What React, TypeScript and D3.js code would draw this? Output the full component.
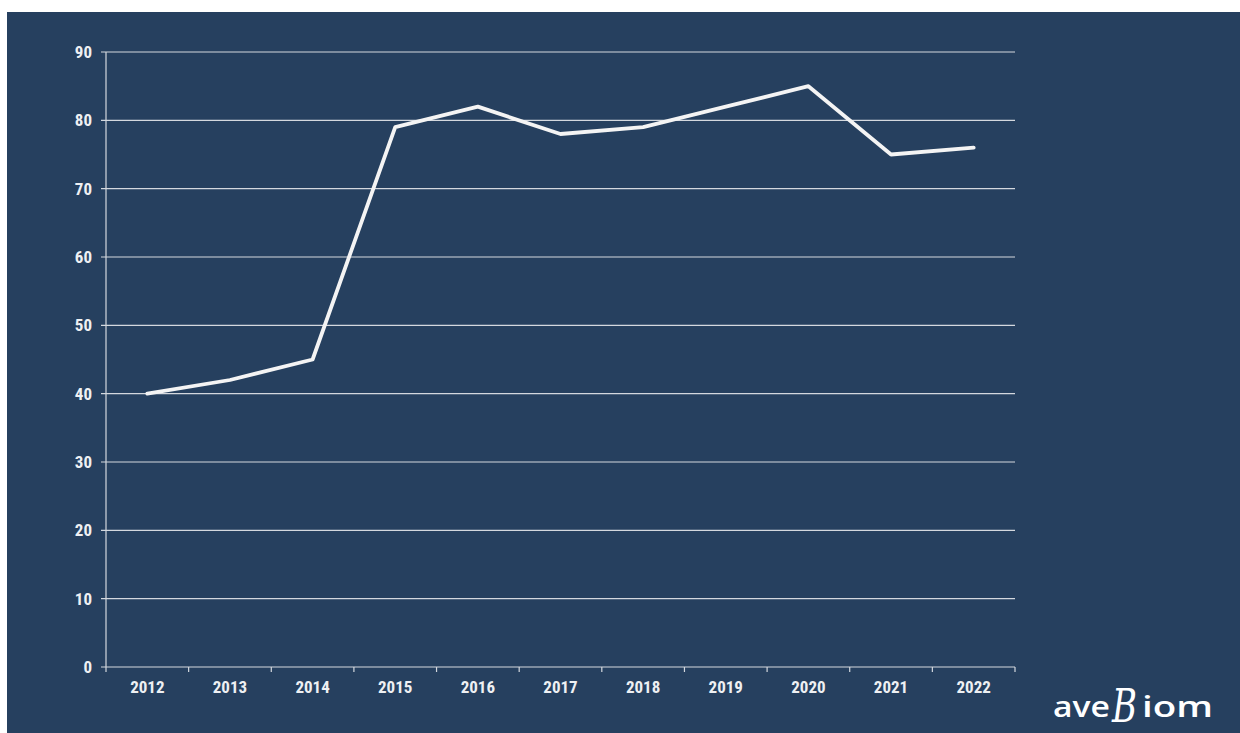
import React from "react";
import * as d3 from "d3";

const years = ["2012", "2013", "2014", "2015", "2016", "2017", "2018", "2019", "2020", "2021", "2022"];
const values = [40, 42, 45, 79, 82, 78, 79, 82, 85, 75, 76];
const yTicks = [0, 10, 20, 30, 40, 50, 60, 70, 80, 90];

const W = 1240;
const H = 733;
const left = 106;
const right = 1015;
const top = 52;
const bottom = 667;
const FONT = "'Liberation Sans Narrow', 'Arial Narrow', 'Roboto Condensed', sans-serif";

export default function App() {
  const x = d3.scaleBand<string>().domain(years).range([left, right]);
  const y = d3.scaleLinear().domain([0, 90]).range([bottom, top]);
  const line = d3
    .line<number>()
    .x((_, i) => (x(years[i]) as number) + x.bandwidth() / 2)
    .y((d) => y(d));
  const boundaries = years.map((yr) => x(yr) as number).concat([right]);

  return (
    <svg width={W} height={H} style={{ position: "absolute", left: 0, top: 0, display: "block" }}>
      <rect x={0} y={0} width={W} height={H} fill="#ffffff" />
      <rect x={7} y={12} width={W - 7} height={H - 12} fill="#26405f" />
      {yTicks.map((t) => (
        <g key={t}>
          <line x1={left - 5} x2={right} y1={y(t)} y2={y(t)} stroke="#d4d8de" strokeWidth={1.2} />
          <text
            x={92}
            y={y(t) + 6}
            textAnchor="end"
            fill="#eef0f3"
            fontFamily={FONT}
            fontWeight="bold"
            fontSize={17}
          >
            {t}
          </text>
        </g>
      ))}
      <line x1={left} x2={left} y1={top} y2={bottom} stroke="#d4d8de" strokeWidth={1.2} />
      {boundaries.map((b, i) => (
        <line key={i} x1={b} x2={b} y1={bottom} y2={bottom + 5} stroke="#d4d8de" strokeWidth={1.2} />
      ))}
      {years.map((yr) => (
        <text
          key={yr}
          x={(x(yr) as number) + x.bandwidth() / 2}
          y={693}
          textAnchor="middle"
          fill="#eef0f3"
          fontFamily={FONT}
          fontWeight="bold"
          fontSize={17}
        >
          {yr}
        </text>
      ))}
      <path d={line(values) || ""} fill="none" stroke="#f4f4f4" strokeWidth={3.8} strokeLinejoin="round" strokeLinecap="round" />
      <g fill="#ffffff">
        <text x={1053} y={717} fontFamily="'Open Sans', 'Noto Sans', sans-serif" fontWeight={600} fontSize={28} textLength={57} lengthAdjust="spacingAndGlyphs">
          ave
        </text>
        <text x={1112} y={722} fontFamily="'DejaVu Serif', serif" fontStyle="italic" fontSize={46} textLength={25} lengthAdjust="spacingAndGlyphs">
          B
        </text>
        <text x={1142} y={717} fontFamily="'Open Sans', 'Noto Sans', sans-serif" fontWeight={600} fontSize={28} textLength={71} lengthAdjust="spacingAndGlyphs">
          iom
        </text>
      </g>
    </svg>
  );
}
